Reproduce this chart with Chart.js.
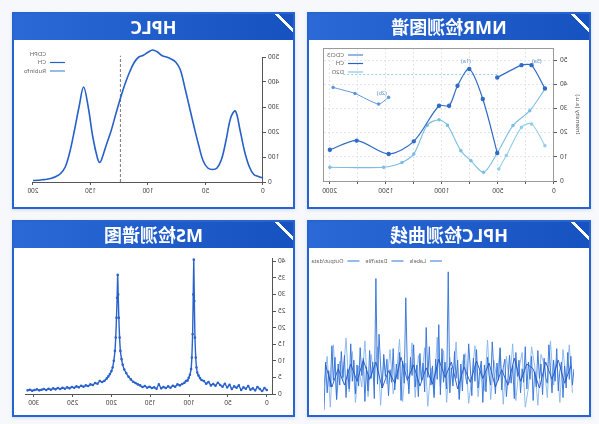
<!DOCTYPE html>
<html>
<head>
<meta charset="utf-8">
<script src="https://cdn.jsdelivr.net/npm/chart.js@4.4.1/dist/chart.umd.min.js"></script>
<style>
html, body { margin: 0; padding: 0; background: #f7f8fb; }
#page { position: relative; width: 599px; height: 424px; overflow: hidden; transform: scaleX(-1); font-family: "Noto Sans", "Noto Sans CJK SC", sans-serif; }
.card { position: absolute; background: #fff; border: 2px solid #2764cf; box-sizing: border-box; box-shadow: 0 1px 3px rgba(30, 80, 160, .18); }
.card .hd { position: absolute; left: 0; top: 0; right: 0; height: 26px; color: #fff; font-weight: bold; font-size: 18px; line-height: 26px; text-align: center;
  background: linear-gradient(135deg, transparent 0 10px, #fff 10px 13px, transparent 13px), linear-gradient(90deg, #1652c0, #2a69d6); }
.card .bd { position: absolute; left: 0; right: 0; top: 26px; bottom: 0; }
</style>
</head>
<body>
<div id="page">
  <div class="card" style="left:8px;top:12px;width:284px;height:197px">
    <div class="hd">NMR检测图谱</div>
    <div class="bd"><canvas id="nmrChart"></canvas></div>
  </div>
  <div class="card" style="left:304px;top:12px;width:283px;height:197px">
    <div class="hd">HPLC</div>
    <div class="bd"><canvas id="hplcChart"></canvas></div>
  </div>
  <div class="card" style="left:8px;top:220px;width:284px;height:197px">
    <div class="hd">HPLC检测曲线</div>
    <div class="bd"><canvas id="curveChart"></canvas></div>
  </div>
  <div class="card" style="left:304px;top:220px;width:283px;height:197px">
    <div class="hd">MS检测谱图</div>
    <div class="bd"><canvas id="msChart"></canvas></div>
  </div>
</div>
<script>
// HPLC chromatogram (retention, signal)
const hplcX = [0,4,8,12,16,20,24,28,32,36,40,44,48,52,56,60,64,68,72,76,80,84,88,92,96,100,104,108,112,116,120,124,128,132,136,140,142,144,148,152,156,160,164,168,172,176,180,184,188,192,196,200];
const hplcY = [16,22,30,62,122,208,284,258,170,92,56,50,56,84,148,222,300,378,450,480,492,500,506,521,528,519,507,500,478,440,392,335,272,206,152,95,78,96,180,300,380,300,206,120,60,34,22,15,11,9,7,6];
const hplcMarkX = [124, 124];
const hplcMarkY = [0, 505];
const hplcXTicks = [0, 50, 100, 150, 200];
const hplcYTicks = [0, 100, 200, 300, 400, 500];
const hplcLegend = ['CDPH', 'CH', 'Rubinfo'];

// NMR spectra
const nmrAX = [1998,1759,1474,1250,1025,935,860,755,635,506];
const nmrAY = [12.9,16.7,11.2,16.4,31.1,31.1,39.4,46.3,33.9,11.6];
const nmrA2X = [506,290,200,81];
const nmrA2Y = [42.8,47.9,47.9,38.3];
const nmrBX = [1969,1774,1564,1474];
const nmrBY = [38.7,36.2,31.8,34.6];
const nmrCX = [1998,1519,1355,1250,1130,1025,950,830,740,627,506,366,216,81];
const nmrCY = [5.7,5.7,7.7,11.2,23.1,25.3,23.1,12.5,8.4,3.6,11.6,22.9,29.1,38];
const nmrDX = [492,425,290,200,81];
const nmrDY = [5,10.5,22.2,23.6,14.6];
const nmrRefX = [506,1880];
const nmrRefY = [44,44];
const nmrXTicks = [0, 250, 500, 750, 1000, 1250, 1500, 1750, 2000];
const nmrYTicks = [0, 10, 20, 30, 40, 50];
const nmrLegend = ['CDCl3', 'CH', 'D2O'];
const nmrNotes = [
  { x: 785, y: 49, text: '(1a)' },
  { x: 153, y: 49, text: '(5a)' },
  { x: 1535, y: 35.5, text: '(2b)' }
];

// MS spectrum (m/z, intensity)
const msX = [0,3,6,9,12,15,18,21,24,27,30,33,36,39,42,45,48,51,54,57,60,63,66,69,72,75,78,81,84,
  86,88,89.5,90.5,91.5,92.5,93.3,94,94.7,95.5,96.5,97.5,99,100.5,102,104,
  106,109,112,115,118,121,124,127,130,133,136,139,142,145,148,151,154,157,160,163,166,169,172,175,178,
  181,183.5,185.5,187,188.5,189.5,190.5,191.3,192,192.7,193.5,194.5,195.5,197,198.5,200,202,204,206,
  209,212,215,218,221,224,227,230,233,236,239,242,245,248,251,254,257,260,263,266,269,272,275,278,281,284,287,290,293,296,299,302,305,308];
const msY = [1.2,1.8,0.9,1.5,2.1,1.1,1.7,1.3,2.4,1.6,2.0,1.2,2.6,1.9,2.3,1.5,2.8,2.0,3.1,2.2,2.7,3.4,2.5,3.0,2.6,3.6,3.1,3.9,4.2,
  4.8,5.6,6.5,8,11,17,28,40.5,30,18,11,7.5,5.8,4.9,4.1,3.9,
  3.4,3.0,2.6,2.9,2.2,2.5,1.9,2.3,1.8,2.1,1.7,2.9,1.6,2.0,1.8,2.2,1.9,2.4,2.1,2.6,2.9,3.3,3.7,4.4,5.2,
  6.3,7.4,8.8,10.5,13,17,23,30,35.9,29,23,17,13,10,8,6.9,6,5.3,4.7,
  4.0,3.6,3.9,3.1,3.3,2.7,2.9,2.4,2.6,2.2,2.5,2.0,2.3,1.9,2.1,1.7,2.0,1.6,1.9,1.5,1.8,1.4,1.7,1.3,1.6,1.2,1.5,1.3,1.1,1.4,1.2,1.0,1.3,1.1];
const msXTicks = [0, 50, 100, 150, 200, 250, 300];
const msYTicks = [0, 5, 10, 15, 20, 25, 30, 35, 40];

// HPLC detection curve, three noisy traces
const curveA = [5,-12,18,-6,22,-15,8,-25,12,3,-18,26,-8,14,-20,6,30,-10,-4,16,
  -22,10,-5,24,-14,2,-28,18,-6,12,-16,28,-9,5,-20,14,-3,22,-26,8,
  -10,19,-4,-24,15,6,-17,27,-7,11,-21,4,33,-12,-2,17,-19,9,-30,13,
  2,-15,25,-8,16,-23,7,31,-11,-3,20,-18,10,-27,14,-5,23,-13,6,-20,
  106,-16,12,-9,26,-22,51,-6,15,-25,8,-12,28,-4,48,-19,11,-7,21,-24,
  9,-14,30,-2,17,-21,5,79,-10,13,-28,22,-6,10,-17,26,-9,4,-23,15,
  -3,20,-15,8,41,-11,99,-26,12,-5,24,-18,7,-29,16,-2,27,-13,9,-21,
  14,-8,31,-16,5,-25,19,-4,23,-12,10,-27,17,-7,29,-14,3,-20,12,-38];
const curveB = [-20,30,-8,25,-30,15,-12,34,-25,10,20,-33,8,28,-15,-35,22,5,-28,31,
  -10,18,-32,26,-6,14,-27,35,-18,9,-24,29,-4,-31,21,12,-26,33,-9,17,
  -30,24,-13,38,-22,6,-34,27,-7,19,-25,32,-16,11,-29,36,-3,-21,25,-11,
  16,-33,28,-6,20,-24,34,-14,8,-30,23,-19,37,-8,13,-27,30,-35,18,-12];
const curveC = [8,-10,14,-6,12,-15,5,10,-8,16,-12,4,-14,11,-5,13,-9,7,-16,12,
  -4,15,-11,6,-13,9,-7,17,-10,3,-15,12,-6,14,-8,10,-12,5,-14,9];
const curveLegend = ['Labels', 'Data/file', 'Output/data'];

const pts = (xs, ys) => xs.map((x, i) => ({ x: x, y: ys[i] }));
const tickFont = { size: 6.5, family: 'Noto Sans' };
const axisColor = '#555';
const fixedTicks = list => scale => { scale.ticks = list.map(v => ({ value: v })); };

// draws a small legend inside the chart area
const inLegend = {
  id: 'inLegend',
  afterDatasetsDraw(chart, args, o) {
    if (!o || !o.items) return;
    const { ctx, chartArea: a } = chart;
    ctx.save();
    ctx.font = (o.size || 6) + 'px "Noto Sans"';
    ctx.textBaseline = 'middle';
    ctx.lineWidth = 1.2;
    let x = a.left + o.x, y = a.top + o.y;
    o.items.forEach(it => {
      if (it.color) {
        ctx.strokeStyle = it.color;
        ctx.beginPath();
        ctx.moveTo(x, y);
        ctx.lineTo(x + o.len, y);
        ctx.stroke();
      }
      ctx.fillStyle = '#666';
      ctx.fillText(it.text, x + o.len + 4, y);
      if (o.horizontal) x += o.len + 4 + ctx.measureText(it.text).width + o.gap;
      else y += o.gap;
    });
    ctx.restore();
  }
};

const boxBorder = {
  id: 'boxBorder',
  beforeDatasetsDraw(chart, args, o) {
    if (!o || !o.color) return;
    const { ctx, chartArea: a } = chart;
    ctx.save();
    ctx.strokeStyle = o.color;
    ctx.lineWidth = 1;
    ctx.strokeRect(a.left + 0.5, a.top + 0.5, a.width, a.height);
    ctx.restore();
  }
};

const notes = {
  id: 'notes',
  afterDatasetsDraw(chart, args, o) {
    if (!o || !o.items) return;
    const { ctx, scales } = chart;
    ctx.save();
    ctx.font = '5.5px "Noto Sans"';
    ctx.fillStyle = '#5a8fd0';
    ctx.textAlign = 'center';
    o.items.forEach(n => ctx.fillText(n.text, scales.x.getPixelForValue(n.x), scales.y.getPixelForValue(n.y)));
    ctx.restore();
  }
};

// HPLC
new Chart(document.getElementById('hplcChart'), {
  type: 'line',
  data: {
    datasets: [{
      data: pts(hplcX, hplcY),
      borderColor: '#2660c9',
      borderWidth: 1.6,
      pointRadius: 0,
      tension: 0.35,
      clip: false
    }, {
      data: pts(hplcMarkX, hplcMarkY),
      borderColor: '#555',
      borderWidth: 0.8,
      borderDash: [3, 2],
      pointRadius: 0,
      clip: false
    }]
  },
  options: {
    responsive: true,
    maintainAspectRatio: false,
    animation: false,
    layout: { padding: { top: 17, right: 19, left: 0, bottom: 0 } },
    plugins: {
      legend: { display: false },
      tooltip: { enabled: false },
      inLegend: {
        x: 198, y: -3, len: 15, gap: 8.5,
        items: [
          { text: hplcLegend[0], color: null },
          { text: hplcLegend[1], color: '#2660c9' },
          { text: hplcLegend[2], color: '#4f8ee0' }
        ]
      }
    },
    scales: {
      x: {
        type: 'linear', min: 0, max: 200,
        afterBuildTicks: fixedTicks(hplcXTicks),
        afterFit: s => { s.height = 25; },
        grid: { drawOnChartArea: false, tickLength: 3, color: axisColor },
        border: { color: axisColor },
        ticks: { font: tickFont, color: '#444', maxRotation: 0, padding: 2 }
      },
      y: {
        min: 0, max: 500,
        afterBuildTicks: fixedTicks(hplcYTicks),
        afterFit: s => { s.width = 30; },
        grid: { drawOnChartArea: false, tickLength: 3, color: axisColor },
        border: { color: axisColor },
        ticks: { font: tickFont, color: '#444', padding: 2 }
      }
    }
  },
  plugins: [inLegend]
});

// NMR
new Chart(document.getElementById('nmrChart'), {
  type: 'line',
  data: {
    datasets: [
      { data: pts(nmrAX, nmrAY), borderColor: '#2f6bc6', backgroundColor: '#2f6bc6', borderWidth: 1.2, pointRadius: 1.6, tension: 0.3 },
      { data: pts(nmrA2X, nmrA2Y), borderColor: '#2f6bc6', backgroundColor: '#2f6bc6', borderWidth: 1.2, pointRadius: 1.6, tension: 0.2 },
      { data: pts(nmrBX, nmrBY), borderColor: '#5d95d8', backgroundColor: '#5d95d8', borderWidth: 1, pointRadius: 1.3, tension: 0.2 },
      { data: pts(nmrCX, nmrCY), borderColor: '#7cbde4', backgroundColor: '#7cbde4', borderWidth: 1.1, pointRadius: 1.2, tension: 0.3 },
      { data: pts(nmrDX, nmrDY), borderColor: '#93cdea', backgroundColor: '#93cdea', borderWidth: 1.1, pointRadius: 1.2, tension: 0.3 },
      { data: pts(nmrRefX, nmrRefY), borderColor: '#8cc7ea', borderWidth: 0.9, borderDash: [2, 2], pointRadius: 0 }
    ]
  },
  options: {
    responsive: true,
    maintainAspectRatio: false,
    animation: false,
    layout: { padding: { top: 8, right: 15, left: 8, bottom: 0 } },
    plugins: {
      legend: { display: false },
      tooltip: { enabled: false },
      boxBorder: { color: '#9a9a9a' },
      notes: { items: nmrNotes },
      inLegend: {
        x: 191, y: 7, len: 15, gap: 8.5,
        items: [
          { text: nmrLegend[0], color: '#4a86d4' },
          { text: nmrLegend[1], color: '#2a62c4' },
          { text: nmrLegend[2], color: '#8cc7ea' }
        ]
      }
    },
    scales: {
      x: {
        type: 'linear', min: 0, max: 2050,
        afterBuildTicks: fixedTicks(nmrXTicks),
        afterFit: s => { s.height = 26; },
        grid: { color: '#e2e6ec', tickColor: axisColor, tickLength: 3 },
        border: { display: false, dash: [2, 2] },
        ticks: {
          font: tickFont, color: '#444', maxRotation: 0, padding: 3, autoSkip: false,
          callback: v => (v % 500 === 0 ? v : '')
        }
      },
      y: {
        min: 0, max: 55,
        afterBuildTicks: fixedTicks(nmrYTicks),
        afterFit: s => { s.width = 27; },
        grid: { color: '#e2e6ec', tickColor: axisColor, tickLength: 3 },
        border: { display: false, dash: [2, 2] },
        title: { display: true, text: 'Intensity (a.u.)', font: { size: 6, family: 'Noto Sans' }, color: '#555', padding: 0 },
        ticks: { font: tickFont, color: '#444', padding: 3 }
      }
    }
  },
  plugins: [boxBorder, notes, inLegend]
});

// MS
new Chart(document.getElementById('msChart'), {
  type: 'line',
  data: {
    datasets: [{
      data: pts(msX, msY),
      borderColor: '#2a62cc',
      backgroundColor: '#2a62cc',
      borderWidth: 1.4,
      pointRadius: 0.6,
      tension: 0.15,
      clip: false
    }]
  },
  options: {
    responsive: true,
    maintainAspectRatio: false,
    animation: false,
    layout: { padding: { top: 10, right: 12, left: 0, bottom: 0 } },
    plugins: { legend: { display: false }, tooltip: { enabled: false } },
    scales: {
      x: {
        type: 'linear', min: -8, max: 310,
        afterBuildTicks: fixedTicks(msXTicks),
        afterFit: s => { s.height = 21; },
        grid: { drawOnChartArea: false, tickLength: 3, color: axisColor },
        border: { color: axisColor },
        ticks: { font: tickFont, color: '#444', maxRotation: 0, padding: 2, autoSkip: false }
      },
      y: {
        min: 0, max: 41,
        afterBuildTicks: fixedTicks(msYTicks),
        afterFit: s => { s.width = 20; },
        grid: { drawOnChartArea: false, tickLength: 3, color: axisColor },
        border: { color: axisColor },
        ticks: { font: tickFont, color: '#444', padding: 2, autoSkip: false }
      }
    }
  }
});

// HPLC detection curve
new Chart(document.getElementById('curveChart'), {
  type: 'line',
  data: {
    datasets: [
      { data: curveB.map((y, i) => ({ x: 2 * i + 1, y: y })), borderColor: '#86b5ee', borderWidth: 0.9, pointRadius: 0, order: 3 },
      { data: curveA.map((y, i) => ({ x: i, y: y })), borderColor: '#2f6fd6', borderWidth: 0.9, pointRadius: 0, order: 2 },
      { data: curveC.map((y, i) => ({ x: 4 * i + 2, y: y })), borderColor: '#1d55bf', borderWidth: 0.9, pointRadius: 0, order: 1 }
    ]
  },
  options: {
    responsive: true,
    maintainAspectRatio: false,
    animation: false,
    layout: { padding: { top: 20, right: 15, left: 15, bottom: 3 } },
    plugins: {
      legend: { display: false },
      tooltip: { enabled: false },
      inLegend: {
        horizontal: true, x: 132, y: -7, len: 12, gap: 6, size: 5.5,
        items: [
          { text: curveLegend[0], color: '#4f8ee0' },
          { text: curveLegend[1], color: '#4f8ee0' },
          { text: curveLegend[2], color: '#4f8ee0' }
        ]
      }
    },
    scales: {
      x: { type: 'linear', min: 0, max: 159, display: false },
      y: { min: -40, max: 110, display: false }
    }
  },
  plugins: [inLegend]
});
</script>
</body>
</html>
